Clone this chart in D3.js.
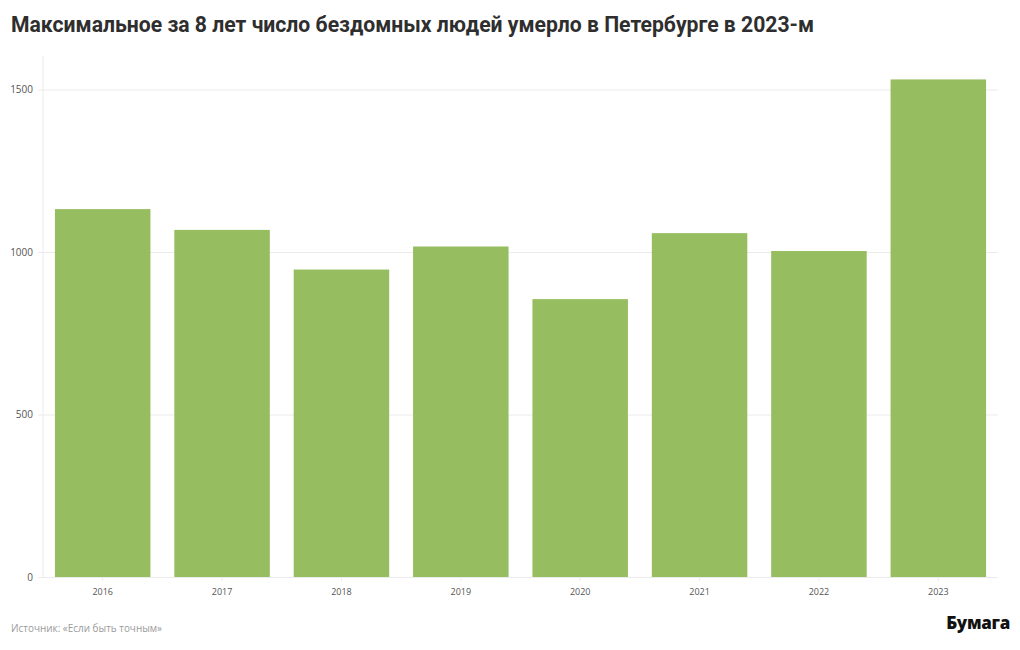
<!DOCTYPE html>
<html><head><meta charset="utf-8">
<script src="https://cdn.jsdelivr.net/npm/d3@7"></script>
<style>body{margin:0;background:#fff}svg{display:block}</style>
</head><body>
<svg id="c" width="1020" height="650"></svg>
<script>
const years = ["2016","2017","2018","2019","2020","2021","2022","2023"];
const deaths = [1132, 1068, 946, 1017, 855, 1058, 1003, 1531];
const yTicks = [0, 500, 1000, 1500];
const title = "Максимальное за 8 лет число бездомных людей умерло в Петербурге в 2023-м";
const source = "Источник: «Если быть точным»";
const logo = "Бумага";

const svg = d3.select("#c");
const m = {l: 43, r: 998, t: 56, b: 577};
const x = d3.scaleBand().domain(years).range([m.l, m.r]).paddingInner(0.2).paddingOuter(0.1);
const y = d3.scaleLinear().domain([0, 1500]).range([m.b, 89.5]);

// vertical axis line
svg.append("line").attr("x1", m.l).attr("x2", m.l).attr("y1", m.t).attr("y2", m.b)
  .attr("stroke", "#ebebeb").attr("stroke-width", 1);

// y grid + labels
const ya = d3.axisLeft(y).tickValues(yTicks).tickSize(5).tickPadding(5).tickFormat(d3.format("d"));
const gy = svg.append("g").attr("transform", `translate(${m.l},0)`).call(ya);
gy.select(".domain").remove();
gy.selectAll(".tick line").attr("stroke", "#ebebeb").attr("x2", m.r - m.l).attr("x1", -5);
gy.selectAll(".tick text").attr("fill", "#555").attr("font-family", "Open Sans, sans-serif").attr("font-size", 10);

// bars
svg.append("g").selectAll("rect").data(years).join("rect")
  .attr("x", d => x(d)).attr("width", x.bandwidth())
  .attr("y", (d, i) => y(deaths[i])).attr("height", (d, i) => y(0) - y(deaths[i]))
  .attr("fill", "#96be61");

// x axis
const xa = d3.axisBottom(x).tickSize(4).tickPadding(8);
const gx = svg.append("g").attr("transform", `translate(0,${m.b})`).call(xa);
gx.select(".domain").remove();
gx.selectAll(".tick line").attr("stroke", "#ebebeb");
gx.selectAll(".tick text").attr("fill", "#555").attr("font-family", "Open Sans, sans-serif").attr("font-size", 9);

// title
svg.append("text").attr("x", 11).attr("y", 32).text(title)
  .attr("font-family", "Liberation Sans Narrow, Roboto, sans-serif").attr("font-weight", 700)
  .attr("font-size", 22).attr("fill", "#2e2e2e")
  .attr("textLength", 803).attr("lengthAdjust", "spacingAndGlyphs");

// source
svg.append("text").attr("x", 11).attr("y", 632).text(source)
  .attr("font-family", "Open Sans, sans-serif").attr("font-size", 10).attr("fill", "#9a9a9a")
  .attr("textLength", 151).attr("lengthAdjust", "spacingAndGlyphs");

// logo
svg.append("text").attr("x", 1010).attr("y", 629).attr("text-anchor", "end").text(logo)
  .attr("font-family", "Open Sans, sans-serif").attr("font-weight", 800)
  .attr("font-size", 17).attr("fill", "#111").attr("letter-spacing", -0.3);
</script>
</body></html>
